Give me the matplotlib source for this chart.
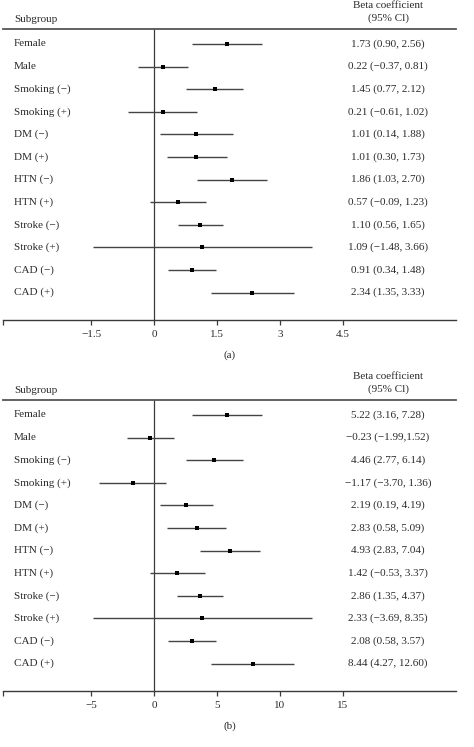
import matplotlib
matplotlib.use("Agg")
import matplotlib.pyplot as plt
from matplotlib.transforms import blended_transform_factory

# ---------------- data ----------------
subgroups = ["Female", "Male", "Smoking (\u2212)", "Smoking (+)", "DM (\u2212)", "DM (+)",
             "HTN (\u2212)", "HTN (+)", "Stroke (\u2212)", "Stroke (+)", "CAD (\u2212)", "CAD (+)"]

# panel (a): plotted estimates and CI bounds
a_est = [1.73, 0.22, 1.45, 0.21, 1.01, 1.01, 1.86, 0.57, 1.10, 1.15, 0.91, 2.34]
a_low = [0.90, -0.37, 0.77, -0.61, 0.14, 0.30, 1.03, -0.09, 0.56, -1.46, 0.34, 1.35]
a_high = [2.56, 0.81, 2.12, 1.02, 1.88, 1.73, 2.70, 1.23, 1.65, 3.77, 1.48, 3.33]
a_labels = ["1.73 (0.90, 2.56)", "0.22 (\u22120.37, 0.81)", "1.45 (0.77, 2.12)",
            "0.21 (\u22120.61, 1.02)", "1.01 (0.14, 1.88)", "1.01 (0.30, 1.73)",
            "1.86 (1.03, 2.70)", "0.57 (\u22120.09, 1.23)", "1.10 (0.56, 1.65)",
            "1.09 (\u22121.48, 3.66)", "0.91 (0.34, 1.48)", "2.34 (1.35, 3.33)"]
a_ticks = [-1.5, 0, 1.5, 3, 4.5]
a_ticklabels = ["\u22121.5", "0", "1.5", "3", "4.5"]

# panel (b): plotted estimates and CI bounds (as drawn in the figure)
b_est = [5.77, -0.32, 4.79, -1.67, 2.54, 3.39, 6.03, 1.83, 3.65, 3.83, 3.02, 7.83]
b_low = [2.99, -2.17, 2.57, -4.34, 0.45, 1.01, 3.68, -0.34, 1.83, -4.87, 1.13, 4.55]
b_high = [8.57, 1.59, 7.06, 0.98, 4.66, 5.74, 8.39, 4.02, 5.45, 12.56, 4.92, 11.13]
b_labels = ["5.22 (3.16, 7.28)", "\u22120.23 (\u22121.99,1.52)", "4.46 (2.77, 6.14)",
            "\u22121.17 (\u22123.70, 1.36)", "2.19 (0.19, 4.19)", "2.83 (0.58, 5.09)",
            "4.93 (2.83, 7.04)", "1.42 (\u22120.53, 3.37)", "2.86 (1.35, 4.37)",
            "2.33 (\u22123.69, 8.35)", "2.08 (0.58, 3.57)", "8.44 (4.27, 12.60)"]
b_ticks = [-5, 0, 5, 10, 15]
b_ticklabels = ["\u22125", "0", "5", "10", "15"]

# ---------------- layout ----------------
W, H = 474, 747
DPI = 100
plt.rcParams['font.family'] = ['Liberation Serif', 'DejaVu Serif']
TXT = "#2b2b2b"
LINE = "#3a3a3a"
FS = 8

fig = plt.figure(figsize=(W / DPI, H / DPI), dpi=DPI)


def fx(px):
    return px / W


def fy(py):
    return 1 - py / H


def panel(top_px, est, low, high, labels, ticks, ticklabels, xlim, caption):
    axis_px = top_px + 291
    left_px, right_px = 3, 456
    ax = fig.add_axes([fx(left_px), fy(axis_px), fx(right_px - left_px),
                       (axis_px - top_px) / H])
    n = len(est)
    row0 = top_px + 15
    step = 22.6
    ymax = (axis_px - row0) / step
    ymin = (top_px - row0) / step
    ax.set_ylim(ymax, ymin)
    ax.set_xlim(*xlim)
    for s in ["left", "right"]:
        ax.spines[s].set_visible(False)
    ax.spines["top"].set_color("#555555")
    ax.spines["top"].set_linewidth(1.3)
    ax.spines["bottom"].set_color(LINE)
    ax.spines["bottom"].set_linewidth(1.0)
    ax.set_yticks([])
    ax.set_xticks([xlim[0]] + ticks)
    ax.set_xticklabels([""] + ticklabels, fontsize=FS, color=TXT)
    ax.tick_params(axis="x", direction="out", length=3.5, width=0.9,
                   color=LINE, pad=3.5)
    ax.axvline(0, color=LINE, lw=0.9)
    ys = list(range(n))
    ax.hlines(ys, low, high, color="#444444", lw=1.0)
    ax.plot(est, ys, "s", color="black", markersize=2.2, markeredgewidth=0)

    tr = blended_transform_factory(fig.transFigure, ax.transData)
    for i in range(n):
        ax.text(fx(14), i, subgroups[i], transform=tr, ha="left", va="center",
                fontsize=FS, color=TXT, clip_on=False)
        ax.text(fx(388), i, labels[i], transform=tr, ha="center", va="center",
                fontsize=FS, color=TXT, clip_on=False)
    # headers
    fig.text(fx(14), fy(top_px - 10), "Subgroup", ha="left", va="center",
             fontsize=FS, color=TXT)
    fig.text(fx(388), fy(top_px - 24), "Beta coefficient", ha="center",
             va="center", fontsize=FS, color=TXT)
    fig.text(fx(388), fy(top_px - 11), "(95% Cl)", ha="center", va="center",
             fontsize=FS, color=TXT)
    fig.text(fx(230), fy(axis_px + 35), caption, ha="center", va="center",
             fontsize=FS, color=TXT)
    return ax


panel(29, a_est, a_low, a_high, a_labels, a_ticks, a_ticklabels,
      (-3.595, 7.19), "(a)")
panel(400, b_est, b_low, b_high, b_labels, b_ticks, b_ticklabels,
      (-11.98, 23.97), "(b)")

fig.savefig("out.png", dpi=DPI)
